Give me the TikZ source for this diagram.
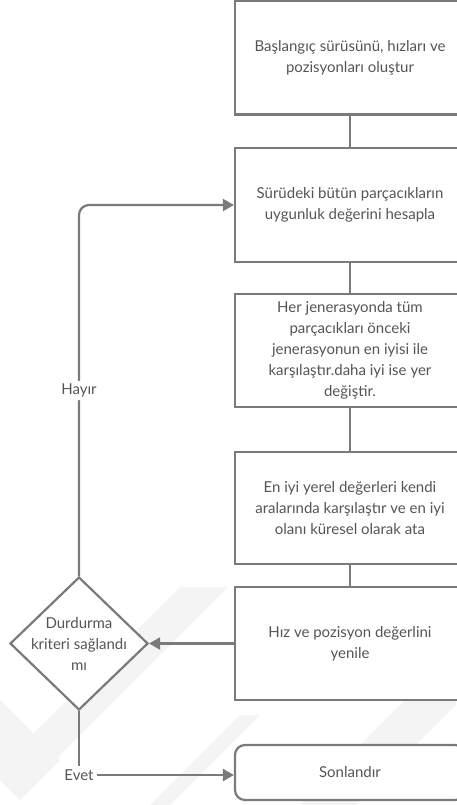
\documentclass[tikz,border=0pt]{standalone}
\usepackage{fontspec}
\setmainfont{Lato}
\usetikzlibrary{shapes.geometric,arrows.meta}
\definecolor{linegray}{HTML}{7A7A7A}
\definecolor{textgray}{HTML}{555555}
\definecolor{markgray}{HTML}{F4F4F4}
\begin{document}
\begin{tikzpicture}[x=1pt,y=-1pt,
  every node/.style={font=\fontsize{15}{21}\selectfont, text=textgray},
  stepbox/.style={draw=linegray, line width=2.2pt, minimum width=230pt,
    minimum height=114pt, align=center, inner sep=0pt, fill=white},
  endbox/.style={stepbox, minimum height=55pt, rounded corners=10pt},
  decision/.style={diamond, draw=linegray, line width=2.2pt, minimum width=138pt,
    minimum height=133pt, inner sep=0pt, fill=white},
  link/.style={draw=linegray, line width=2.2pt},
  arrow/.style={link, -{Triangle[length=11pt,width=12pt]}},
  label/.style={fill=white, inner sep=3pt}]
\useasboundingbox (0,0) rectangle (456,805);
% faint background marks
\fill[markgray] (180,587) -- (228,587) -- (45,770) -- (0,770) -- (0,767) -- cycle;
\fill[markgray] (0,700) -- (60,760) -- (20,800) -- (0,780) -- cycle;
\fill[markgray] (300,805) -- (456,649) -- (456,705) -- (356,805) -- cycle;
\fill[markgray] (150,805) -- (240,715) -- (260,715) -- (170,805) -- cycle;
% process steps
\node[stepbox] (s1) at (350,57.5) {Başlangıç sürüsünü, hızları ve\\pozisyonları oluştur};
\node[stepbox] (s2) at (350,205) {Sürüdeki bütün parçacıkların\\uygunluk değerini hesapla};
\node[stepbox, minimum height=113pt] (s3) at (350,350.5) {Her jenerasyonda tüm\\parçacıkları önceki\\jenerasyonun en iyisi ile\\karşılaştır.daha iyi ise yer\\değiştir.};
\node[stepbox, minimum height=112pt] (s4) at (350,508) {En iyi yerel değerleri kendi\\aralarında karşılaştır ve en iyi\\olanı küresel olarak ata};
\node[stepbox, minimum height=113pt] (s5) at (350,643.5) {Hız ve pozisyon değerlini\\yenile};
\node[endbox] (s6) at (350,772.5) {Sonlandır};
% decision: the diamond outline, its text set on top
\node[decision] (d) at (79,643.5) {};
\node[align=center, inner sep=0pt] (dtext) at (d.center) {Durdurma\\kriteri sağlandı\\mı};
\node (evet) at (79,775) {Evet};
% connectors
\draw[link] (s1.south) -- (s2.north);
\draw[link] (s2.south) -- (s3.north);
\draw[link] (s3.south) -- (s4.north);
\draw[link] (s4.south) -- (s5.north);
\draw[arrow] (s5.west) -- (d.east);
\draw[arrow, rounded corners=10pt] (d.north) |- node[pos=0.25, label] (hayir) {Hayır} (s2.west);
\draw[link] (d.south) -- (evet.north);
\draw[arrow] (evet.east) -- (evet.east -| s6.west);
\end{tikzpicture}
\end{document}
